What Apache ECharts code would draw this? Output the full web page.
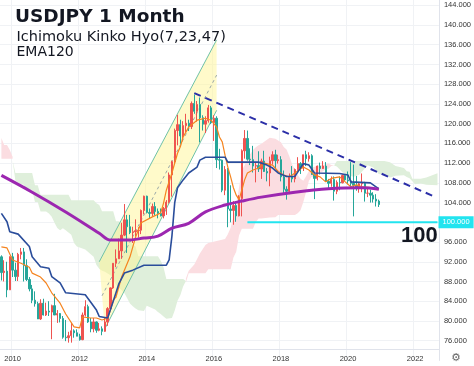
<!DOCTYPE html>
<html><head><meta charset="utf-8">
<script src="https://cdn.jsdelivr.net/npm/echarts@6/dist/echarts.min.js"></script>
<style>html,body{margin:0;padding:0;background:#fff}#c{width:474px;height:366px}</style>
</head><body><div id="c"></div>
<script>
// Monthly candles: [month, open, high, low, close]
const candles = [
['2009-09',93.0,93.3,88.2,89.8],['2009-10',89.8,92.3,88.0,90.1],['2009-11',90.1,92.0,84.8,86.3],['2009-12',86.3,93.1,86.3,93.0],
['2010-01',93.0,93.8,88.9,90.3],['2010-02',90.3,91.8,88.1,89.0],['2010-03',89.0,93.8,88.1,93.5],['2010-04',93.5,94.8,92.5,94.0],
['2010-05',94.0,94.8,88.0,91.2],['2010-06',91.2,92.5,88.1,88.4],['2010-07',88.4,88.9,86.0,86.5],['2010-08',86.5,87.3,83.6,84.2],
['2010-09',84.2,86.0,82.9,83.5],['2010-10',83.5,83.9,80.4,80.4],['2010-11',80.4,84.4,80.2,83.6],['2010-12',83.6,84.5,81.1,81.2],
['2011-01',81.2,83.7,81.0,82.0],['2011-02',82.0,84.0,81.0,81.8],['2011-03',81.8,83.3,76.3,83.1],['2011-04',83.1,85.5,81.2,81.2],
['2011-05',81.2,82.2,79.6,81.5],['2011-06',81.5,81.6,79.7,80.5],['2011-07',80.5,81.0,76.4,76.7],['2011-08',76.7,80.2,75.9,76.6],
['2011-09',76.6,77.8,75.6,77.0],['2011-10',77.0,79.6,75.6,78.0],['2011-11',78.0,78.3,76.6,77.6],['2011-12',77.6,78.3,76.9,76.9],
['2012-01',76.9,77.4,76.0,76.2],['2012-02',76.2,81.7,76.1,81.2],['2012-03',81.2,84.2,80.9,82.9],['2012-04',82.9,83.3,79.6,79.8],
['2012-05',79.8,80.6,77.7,78.4],['2012-06',78.4,80.6,77.7,79.8],['2012-07',79.8,79.9,77.6,78.1],['2012-08',78.1,79.6,77.9,78.4],
['2012-09',78.4,78.9,77.1,77.9],['2012-10',77.9,80.6,77.8,79.8],['2012-11',79.8,82.8,79.0,82.5],['2012-12',82.5,86.8,82.3,86.7],
['2013-01',86.7,91.7,86.5,91.7],['2013-02',91.7,94.5,90.9,92.6],['2013-03',92.6,96.7,92.6,94.2],['2013-04',94.2,99.9,92.6,97.4],
['2013-05',97.4,103.7,97.2,100.5],['2013-06',100.5,101.5,93.8,99.1],['2013-07',99.1,101.5,97.6,97.9],['2013-08',97.9,99.1,95.8,98.1],
['2013-09',98.1,100.6,97.1,98.3],['2013-10',98.3,99.0,96.9,98.4],['2013-11',98.4,102.6,97.6,102.4],['2013-12',102.4,105.4,101.6,105.3],
['2014-01',105.3,105.4,101.8,102.0],['2014-02',102.0,102.8,100.8,101.8],['2014-03',101.8,103.8,101.2,103.2],['2014-04',103.2,104.1,101.4,102.2],
['2014-05',102.2,102.8,100.8,101.8],['2014-06',101.8,102.8,101.2,101.3],['2014-07',101.3,103.1,100.8,102.8],['2014-08',102.8,104.5,101.5,104.1],
['2014-09',104.1,110.1,103.8,109.6],['2014-10',109.6,112.5,105.2,112.3],['2014-11',112.3,119.0,112.0,118.6],['2014-12',118.6,121.8,115.6,119.8],
['2015-01',119.8,120.8,115.9,117.5],['2015-02',117.5,120.5,116.4,119.6],['2015-03',119.6,122.0,118.3,120.1],['2015-04',120.1,120.8,118.5,119.4],
['2015-05',119.4,124.5,118.9,124.1],['2015-06',124.1,125.9,122.0,122.5],['2015-07',122.5,124.6,120.4,123.9],['2015-08',123.9,125.3,116.2,121.2],
['2015-09',121.2,121.7,118.6,119.9],['2015-10',119.9,121.5,118.1,120.6],['2015-11',120.6,123.8,120.2,123.2],['2015-12',123.2,123.6,119.9,120.2],
['2016-01',120.2,121.7,116.5,121.1],['2016-02',121.1,121.5,111.0,112.7],['2016-03',112.7,114.9,110.7,112.6],['2016-04',112.6,112.7,106.1,106.5],
['2016-05',106.5,111.4,105.5,110.7],['2016-06',110.7,111.0,99.0,102.7],['2016-07',102.7,107.5,100.0,102.4],['2016-08',102.4,104.3,99.5,103.4],
['2016-09',103.4,104.3,100.1,101.3],['2016-10',101.3,105.5,101.2,104.8],['2016-11',104.8,114.8,101.2,114.5],['2016-12',114.5,118.7,112.9,117.0],
['2017-01',117.0,118.6,112.5,112.8],['2017-02',112.8,115.0,111.6,112.7],['2017-03',112.7,115.5,110.1,111.4],['2017-04',111.4,112.2,108.1,111.5],
['2017-05',111.5,114.4,110.2,110.8],['2017-06',110.8,112.9,108.8,112.4],['2017-07',112.4,114.5,110.6,110.3],['2017-08',110.3,111.0,108.3,110.0],
['2017-09',110.0,113.3,107.3,112.5],['2017-10',112.5,114.4,111.7,113.7],['2017-11',113.7,114.7,110.8,112.5],['2017-12',112.5,113.7,111.9,112.7],
['2018-01',112.7,113.4,108.3,109.2],['2018-02',109.2,110.5,105.6,106.7],['2018-03',106.7,107.3,104.6,106.3],['2018-04',106.3,109.9,105.7,109.3],
['2018-05',109.3,111.4,108.1,108.8],['2018-06',108.8,110.9,108.1,110.7],['2018-07',110.7,113.2,110.3,111.9],['2018-08',111.9,112.2,109.8,111.0],
['2018-09',111.0,113.7,110.4,113.7],['2018-10',113.7,114.5,111.4,112.9],['2018-11',112.9,114.2,112.3,113.5],['2018-12',113.5,113.8,109.6,109.7],
['2019-01',109.7,109.9,104.7,108.9],['2019-02',108.9,111.5,108.5,111.4],['2019-03',111.4,112.1,109.7,110.9],['2019-04',110.9,112.4,110.8,111.4],
['2019-05',111.4,112.2,108.3,108.3],['2019-06',108.3,108.8,106.8,107.9],['2019-07',107.9,109.3,107.2,108.7],['2019-08',108.7,109.3,104.4,106.3],
['2019-09',106.3,108.5,105.7,108.1],['2019-10',108.1,109.3,106.5,108.0],['2019-11',108.0,109.7,107.9,109.5],['2019-12',109.5,109.7,108.4,108.6],
['2020-01',108.6,110.3,107.7,108.4],['2020-02',108.4,112.2,107.0,107.9],['2020-03',107.9,111.7,101.2,107.5],['2020-04',107.5,109.4,106.4,106.9],
['2020-05',106.9,108.1,106.0,107.8],['2020-06',107.8,109.9,106.1,107.9],['2020-07',107.9,108.2,104.2,105.9],['2020-08',105.9,107.0,105.1,105.9],
['2020-09',105.9,106.6,104.0,105.5],['2020-10',105.5,106.1,104.0,104.7],['2020-11',104.7,105.7,103.2,104.3],['2020-12',104.3,104.6,103.1,103.6]
];

// EMA120 readings [month, value]
const ema120 = [
['2009-09',109.5],['2010-08',106.1],['2011-08',102.1],['2012-08',97.8],['2012-12',96.4],['2013-06',96.4],['2013-12',96.8],
['2014-05',97.2],['2014-10',98.8],['2015-04',99.8],['2015-10',102.1],['2016-05',103.5],['2016-11',104.3],['2017-06',105.1],
['2018-06',106.1],['2019-06',106.8],['2020-06',107.0],['2020-12',106.7]
];

// Kijun-sen (23) readings
const kijun = [
['2009-09',101.8],['2009-11',100.1],['2009-12',98.1],['2010-03',97.6],['2010-07',95.1],['2010-08',93.0],['2010-11',91.0],
['2011-02',90.7],['2011-03',89.0],['2011-06',87.7],['2011-08',85.7],['2012-03',85.3],['2012-07',82.2],['2012-08',80.9],
['2012-11',80.6],['2013-01',84.0],['2013-03',87.5],['2013-05',89.7],['2013-08',90.3],['2013-12',91.3],['2014-08',91.3],
['2014-09',92.4],['2014-10',97.2],['2014-11',104.0],['2014-12',107.0],['2015-02',108.6],['2015-04',110.0],['2015-07',111.2],
['2015-08',112.6],['2015-10',113.2],['2016-05',113.2],['2016-06',112.2],['2017-05',112.2],['2017-08',111.6],['2017-10',111.0],
['2017-12',110.0],['2018-03',109.3],['2018-06',109.3],['2018-09',111.9],['2018-11',111.6],['2019-01',110.0],['2019-10',109.9],
['2020-01',109.6],['2020-02',108.2],['2020-09',108.0],['2020-11',107.2],['2020-12',106.8]
];

// Tenkan-sen (7) readings
const tenkan = [
['2009-09',95.0],['2009-11',94.8],['2010-01',92.35],['2010-04',91.7],['2010-07',90.9],['2010-08',89.7],['2010-11',88.9],
['2011-01',87.7],['2011-03',85.7],['2011-06',83.6],['2011-08',81.4],['2011-11',78.8],['2012-01',78.6],['2012-02',80.8],
['2012-05',80.6],['2012-07',80.6],['2012-09',80.2],['2012-11',80.6],['2012-12',82.2],['2013-01',84.2],['2013-02',84.85],
['2013-04',88.9],['2013-07',93.0],['2013-09',97.0],['2013-11',99.9],['2014-03',101.1],['2014-06',101.9],['2014-07',103.9],
['2014-08',106.5],['2014-10',110.0],['2014-12',114.0],['2015-01',115.3],['2015-02',117.3],['2015-04',119.3],['2015-07',120.7],
['2015-10',121.1],['2015-12',120.7],['2016-02',119.3],['2016-03',117.3],['2016-04',116.3],['2016-05',113.6],['2016-06',111.2],
['2016-07',109.2],['2016-08',107.0],['2016-09',105.5],['2016-10',104.6],['2016-11',106.5],['2016-12',108.6],['2017-01',110.0],
['2017-03',110.6],['2017-05',111.0],['2017-07',112.0],['2017-10',111.6],['2017-12',110.3],['2018-02',109.6],['2018-04',109.2],
['2018-06',110.0],['2018-09',111.2],['2018-11',110.6],['2019-01',109.6],['2019-03',109.2],['2019-05',108.2],['2019-07',108.9],
['2019-10',109.2],['2019-12',108.2],['2020-02',107.2],['2020-04',107.6],['2020-06',107.2],['2020-10',107.0],['2020-12',106.6]
];

// Cloud (senkou spans, shifted forward): [month, upper, lower]
const cloudPink1 = [
['2009-09',117.1,112.9],['2009-10',115.65,112.9],['2009-11',115.65,112.9],['2009-12',114.65,112.9],['2010-01',113.3,112.9]
];
const cloudGreen1 = [
['2010-01',112.6,112.6],['2010-02',110.0,108.4],['2010-04',110.0,107.7],['2010-05',110.0,107.6],['2010-06',110.0,106.35],
['2010-08',110.0,106.6],['2010-09',107.5,104.1],['2010-10',107.5,104.1],['2010-11',105.6,102.2],['2011-01',105.6,102.2],
['2011-02',105.6,101.8],['2011-03',105.6,101.1],['2011-04',105.6,99.9],['2011-05',105.6,98.85],['2011-06',105.6,98.4],
['2011-07',105.6,98.8],['2011-08',105.6,98.4],['2011-09',105.6,97.95],['2011-10',104.45,97.45],['2011-11',104.45,95.8],
['2011-12',104.45,95.1],['2012-03',104.45,94.5],['2012-06',104.45,93.0],['2012-07',103.85,91.35],['2012-08',103.5,90.6],
['2012-09',102.25,90.2],['2012-10',102.25,89.95],['2012-12',102.25,89.25],['2013-01',102.25,88.3],['2013-02',100.2,87.35],
['2013-03',100.2,86.8],['2013-04',100.0,86.2],['2013-05',98.05,85.65],['2013-06',97.1,84.6],['2013-07',96.9,83.55],
['2013-08',95.5,83.0],['2013-09',95.1,82.5],['2013-10',93.1,82.15],['2013-12',93.1,82.0],['2014-01',93.1,83.1],
['2014-04',93.1,82.3],['2014-05',93.1,81.8],['2014-06',92.2,81.4],['2014-07',90.9,80.9],['2014-08',88.5,80.45],
['2014-10',88.5,80.6],['2014-11',88.5,82.1],['2014-12',88.5,84.1],['2015-01',88.5,85.2],['2015-02',88.5,87.0],['2015-03',88.1,88.1]
];
const cloudPink2 = [
['2015-03',88.6,87.8],['2015-04',90.2,89.65],['2015-06',91.45,89.65],['2015-08',93.65,89.65],['2015-10',95.4,89.65],
['2015-11',95.8,90.5],['2016-02',96.2,90.5],['2016-05',96.6,90.5],['2016-06',97.6,90.5],['2016-07',98.9,90.5],
['2016-08',101.2,92.85],['2016-09',103.6,94.05],['2016-10',107.0,97.3],['2016-11',110.5,98.7],['2016-12',111.55,98.7],
['2017-01',112.95,98.7],['2017-03',114.65,98.7],['2017-04',115.2,100.05],['2017-05',115.6,100.75],['2017-06',115.95,100.75],
['2017-09',117.15,100.95],['2017-11',116.95,101.0],['2017-12',116.6,101.5],['2018-01',116.25,101.5],['2018-02',115.25,101.5],
['2018-03',114.75,101.5],['2018-04',113.4,101.5],['2018-05',111.7,101.5],['2018-06',110.7,101.5],['2018-07',109.6,101.85],
['2018-08',108.85,102.45],['2018-09',108.4,104.1],['2018-10',109.35,106.2],['2018-11',110.4,108.4],['2018-12',111.1,109.25],
['2019-01',111.25,109.25],['2019-02',111.4,109.85],['2019-04',111.6,110.3],['2019-05',111.75,110.85],['2019-06',111.9,110.85],
['2019-07',111.6,111.4],['2019-08',111.5,111.5]
];
const cloudGreen2 = [
['2019-08',111.5,111.5],['2019-09',112.45,111.3],['2019-11',112.45,110.15],['2020-01',112.45,109.55],['2020-03',112.45,109.25],
['2020-05',112.45,109.65],['2020-08',112.45,111.55],['2020-10',112.45,111.1],['2020-12',112.45,109.8],['2021-02',112.45,109.6],
['2021-04',112.15,109.1],['2021-06',111.4,109.45],['2021-09',111.0,109.55],['2021-10',110.35,109.2],['2021-11',110.25,108.95],
['2021-12',108.85,108.3],['2022-01',108.85,107.7],['2022-03',108.85,107.85],['2022-05',109.1,107.6],['2022-09',109.95,107.5]
];

// Drawings: [month, price]
const channelUpper = [['2012-08',92.0],['2016-02',137.0]];
const channelLower = [['2012-10',78.4],['2016-02',122.7]];
const channelMid = [['2012-09',85.1],['2016-02',129.85]];
const trendLine = [['2015-06',126.2],['2022-08',105.2]];
const supportLine = [['2017-01',100],['2022-09',100]];
const supportLabel = '100';

const yRange = { min: 72, max: 145.07, step: 4 };

// category axis months (Sep 2009 .. Sep 2022)
const axisMonths = [];
(function () {
  let y = 2009, m = 9;
  for (let k = 0; k < 157; k++) {
    axisMonths.push(y + '-' + String(m).padStart(2, '0'));
    m++; if (m > 12) { m = 1; y++; }
  }
})();

function ym(s) { const p = s.split('-').map(Number); return p[0] + (p[1] - 1) / 12; }
const xMin = ym(axisMonths[0]) - 0.5 / 12;
const xMax = ym(axisMonths[axisMonths.length - 1]) + 0.5 / 12;

const chart = echarts.init(document.getElementById('c'), null, { renderer: 'canvas' });

const cloudSegments = [
  { color: '#fbdde1', pts: cloudPink1 },
  { color: '#dfefdb', pts: cloudGreen1 },
  { color: '#fbdde1', pts: cloudPink2 },
  { color: '#dfefdb', pts: cloudGreen2 }
];

function line(pts, color, width, extra) {
  return Object.assign({
    type: 'line', xAxisIndex: 1, yAxisIndex: 0, symbol: 'none', silent: true,
    data: pts.map(p => [ym(p[0]), p[1]]),
    lineStyle: { color: color, width: width }, z: 5
  }, extra || {});
}

const yearLabel = (idx, val) => val.endsWith('-01') && (+val.slice(0, 4)) % 2 === 0;

const option = {
  animation: false,
  backgroundColor: '#ffffff',
  grid: { left: 0, right: 34, top: 0, bottom: 5.6 },
  xAxis: [
    {
      type: 'category', data: axisMonths, boundaryGap: true, offset: -11.4,
      axisLine: { show: true, lineStyle: { color: '#e0e3eb', width: 1 } },
      axisTick: { show: false },
      axisLabel: { interval: yearLabel, formatter: v => v.slice(0, 4), fontSize: 7.5, color: '#333', fontFamily: 'Liberation Sans', margin: 6 },
      splitLine: { show: true, interval: yearLabel, lineStyle: { color: '#f0f2f5', width: 1 } }
    },
    { type: 'value', min: xMin, max: xMax, show: false }
  ],
  yAxis: {
    type: 'value', position: 'right', min: yRange.min, max: yRange.max, interval: yRange.step,
    axisLine: { show: true, lineStyle: { color: '#e0e3eb', width: 1 } },
    axisTick: { show: false },
    axisLabel: {
      fontSize: 7.5, color: '#333', fontFamily: 'Liberation Sans', margin: 5, showMaxLabel: false,
      formatter: v => (v < 74 || v > 144.5) ? '' : v.toFixed(3)
    },
    splitLine: { show: true, showMinLine: false, showMaxLine: false, lineStyle: { color: '#f0f2f5', width: 1 } }
  },
  graphic: [
    { type: 'text', z: 100, left: 15, top: 8, style: { text: 'USDJPY 1 Month', font: 'bold 18.5px "DejaVu Sans"', fill: '#131722' } },
    { type: 'text', z: 100, left: 16.5, top: 30, style: { text: 'Ichimoku Kinko Hyo(7,23,47)', font: '14.5px "DejaVu Sans"', fill: '#131722' } },
    { type: 'text', z: 100, left: 16.5, top: 45, style: { text: 'EMA120', font: '14px "DejaVu Sans"', fill: '#131722' } },
    { type: 'text', z: 100, left: 401, top: 225, style: { text: supportLabel, font: 'bold 22px "Liberation Sans"', fill: '#131722' } },
    { type: 'text', z: 100, left: 451, top: 353, style: { text: '\u2699', font: '11px "DejaVu Sans"', fill: '#666' } }
  ],
  series: [
    {
      type: 'custom', xAxisIndex: 1, yAxisIndex: 0, silent: true, z: 1,
      data: cloudSegments.map(s => [ym(s.pts[0][0]), s.pts[0][1]]),
      renderItem: function (params, api) {
        const seg = cloudSegments[params.dataIndex];
        const up = seg.pts.map(p => api.coord([ym(p[0]), p[1]]));
        const lo = seg.pts.slice().reverse().map(p => api.coord([ym(p[0]), p[2]]));
        return { type: 'polygon', shape: { points: up.concat(lo) }, style: { fill: seg.color } };
      }
    },
    {
      type: 'custom', xAxisIndex: 1, yAxisIndex: 0, silent: true, z: 2,
      data: [[ym(channelUpper[0][0]), channelUpper[0][1]]],
      renderItem: function (params, api) {
        const pts = [channelUpper[0], channelUpper[1], channelLower[1], channelLower[0]].map(p => api.coord([ym(p[0]), p[1]]));
        return { type: 'polygon', shape: { points: pts }, style: { fill: 'rgba(255,245,150,0.5)' } };
      }
    },
    line(channelUpper, '#6fc2a8', 1, { z: 3 }),
    line(channelLower, '#6fc2a8', 1, { z: 3 }),
    line(channelMid, '#9aa8a8', 1, { z: 3, lineStyle: { color: '#9aa8a8', width: 1, type: [3, 3] } }),
    {
      type: 'candlestick', xAxisIndex: 0, yAxisIndex: 0, silent: true, z: 4,
      data: candles.map(r => [r[1], r[4], r[3], r[2]]),
      barWidth: 1.8,
      itemStyle: { color: '#ef5350', color0: '#26a69a', borderColor: '#ef5350', borderColor0: '#26a69a', borderWidth: 1 }
    },
    line(tenkan, '#f5841f', 1.2),
    line(kijun, '#2a4d9b', 1.6),
    line(ema120, '#9c27b0', 3, { smooth: 0.35, z: 6 }),
    line(trendLine, '#2b2fa8', 2, { z: 6, lineStyle: { color: '#2b2fa8', width: 2, type: [7, 5] } }),
    line(supportLine, '#22e4ef', 2, {
      z: 7,
      endLabel: { show: true, formatter: '100.000', backgroundColor: '#22e4ef', color: '#ffffff', fontSize: 7.5, fontFamily: 'Liberation Sans', padding: [2, 4, 2, 4], distance: 1 }
    })
  ]
};
chart.setOption(option);
</script></body></html>
